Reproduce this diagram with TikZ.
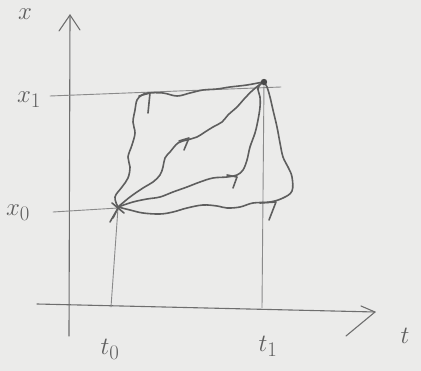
\documentclass[tikz,border=0pt]{standalone}
\usetikzlibrary{calc}
\definecolor{paper}{HTML}{EBEBEA}
\definecolor{pencil}{HTML}{5E5E5E}
\definecolor{guide}{HTML}{8A8A8A}
\begin{document}
\begin{tikzpicture}[x=1pt,y=-1pt,
  stroke/.style={draw=pencil,line width=1.6pt,line cap=round,line join=round},
  guideline/.style={draw=guide,line width=0.9pt,line cap=round},
  axis/.style={draw=pencil!90,line width=1.1pt,line cap=round,line join=round},
  lbl/.style={text=pencil,inner sep=0pt}]
\fill[paper] (0,0) rectangle (421,371);
\useasboundingbox (0,0) rectangle (421,371);

% points
\coordinate (P0) at (118,208);
\coordinate (P1) at (264,82);

% axes
\coordinate (ybot) at (69,336);
\coordinate (ytop) at (70,15);
\coordinate (xl) at (37,304);
\coordinate (xr) at (375,312);
\draw[axis] (ybot) -- (ytop);
\draw[axis] (59,31) -- (ytop) -- (80,30);
\draw[axis] (xl) -- (xr);
\draw[axis] (361,306) -- (xr) -- (346,336);

% guide lines
\draw[guideline] (50,96) -- (281,87);
\draw[guideline] (53,212) -- (P0);
\draw[guideline] (111,307) -- (P0);
\draw[guideline] (262,308) -- (P1);

% path 1 (top-left)
\draw[stroke] plot[smooth,tension=0.6] coordinates {(118,207) (115,197) (122,187) (128,178) (130,167) (128,157) (132,145) (135,133) (133,122) (135,110) (137,100) (142,95) (148,93) (163,93) (177,96) (190,93) (203,90) (217,89) (230,87) (247,85) (263,82)};
\draw[stroke] (139,96) -- (150,93) -- (148,113);

% path 2 (diagonal)
\draw[stroke] plot[smooth,tension=0.6] coordinates {(118,207) (130,197) (143,188) (153,182) (160,175) (163,167) (165,158) (170,152) (178,143) (187,140) (197,137) (205,132) (213,127) (222,122) (228,115) (237,107) (245,98) (253,90) (263,82)};
\draw[stroke] (179,141) -- (189,138) -- (184,150);

% path 3 (lower-middle)
\draw[stroke] plot[smooth,tension=0.6] coordinates {(118,207) (133,202) (147,199) (160,197) (173,192) (187,187) (200,182) (213,178) (227,177) (237,175) (243,170) (247,160) (250,147) (255,133) (258,120) (260,107) (260,97) (258,88) (263,82)};
\draw[stroke] (227,175) -- (237,177) -- (233,188);

% path 4 (bottom)
\draw[stroke] plot[smooth,tension=0.6] coordinates {(118,207) (130,210) (143,213) (160,214) (173,212) (187,208) (203,205) (217,206) (227,208) (240,207) (253,203) (270,202) (283,198) (292,191) (292,177) (288,167) (283,157) (280,143) (277,127) (273,110) (270,97) (267,87) (264,82)};
\draw[stroke] (260,203) -- (276,202) -- (269,220);

% point marks
\draw[stroke] (110,222) -- (P0) -- (113,218);
\draw[stroke] (112,203) -- (124,213);
\fill[pencil!80!black] (P1) circle (3.2);

% labels
\node[lbl,font=\fontsize{36}{40}\selectfont] (lx) at (25,14) {$x$};
\node[lbl,font=\fontsize{30}{36}\selectfont] (lx1) at (29,100) {$x_1$};
\node[lbl,font=\fontsize{30}{36}\selectfont] (lx0) at (18,213) {$x_0$};
\node[lbl,font=\fontsize{30}{36}\selectfont] (lt0) at (110,349) {$t_0$};
\node[lbl,font=\fontsize{30}{36}\selectfont] (lt1) at (268,346) {$t_1$};
\node[lbl,font=\fontsize{44}{50}\selectfont] (lt) at (405,336) {$t$};
\end{tikzpicture}
\end{document}
